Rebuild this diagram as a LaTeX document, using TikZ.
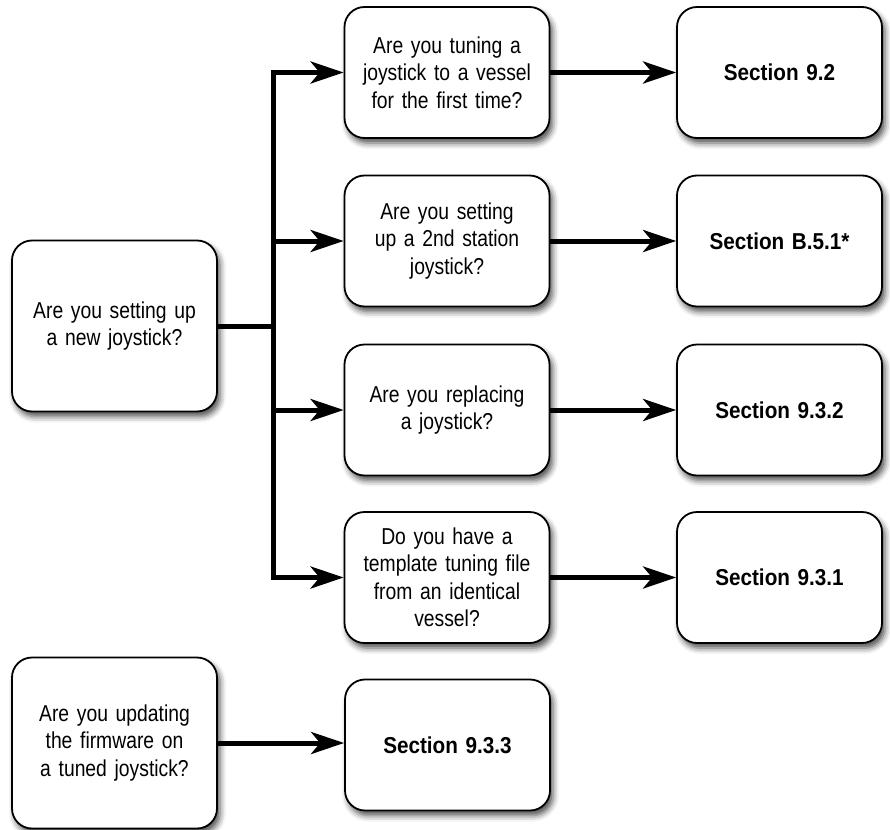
\documentclass[tikz,border=0pt]{standalone}
\usepackage{fontspec}
\setmainfont{Liberation Sans}[FakeStretch=0.84, BoldFeatures={FakeStretch=0.9}]
\usetikzlibrary{arrows.meta,shadows.blur}
\begin{document}
\begin{tikzpicture}[x=1pt,y=-1pt,
  box/.style={draw, line width=1.8pt, rounded corners=20pt, fill=white,
    align=center, inner sep=0pt, text width=190pt,
    minimum width=205pt, minimum height=131pt,
    blur shadow={shadow xshift=3pt, shadow yshift=-5pt, shadow blur radius=6pt, shadow opacity=70},
    font=\fontsize{23}{27.5}\selectfont},
  tall/.style={minimum height=171pt},
  secbox/.style={box, font=\fontsize{23}{27.5}\selectfont\bfseries},
  conn/.style={line width=5pt},
  arr/.style={line width=5pt, -{Stealth[length=33pt, width=22pt, inset=9pt]}}
]
\useasboundingbox (0,0) rectangle (890,829);

\node[box, tall] (q0) at (114.5,326) {Are you setting up\\a new joystick?};
\node[box] (m1) at (447,72.5) {Are you tuning a\\joystick to a vessel\\for the first time?};
\node[box] (m2) at (447,241) {Are you setting\\up a 2nd station\\joystick?};
\node[box] (m3) at (447,410) {Are you replacing\\a joystick?};
\node[box] (m4) at (447,577.5) {Do you have a\\template tuning file\\from an identical\\vessel?};

\node[secbox] (r1) at (779.5,72.5) {Section 9.2};
\node[secbox] (r2) at (779.5,241) {Section B.5.1*};
\node[secbox] (r3) at (779.5,410) {Section 9.3.2};
\node[secbox] (r4) at (779.5,577.5) {Section 9.3.1};

\node[box, tall] (q1) at (114.5,743) {Are you updating\\the firmware on\\a tuned joystick?};
\node[secbox] (r5) at (447.5,745) {Section 9.3.3};

\coordinate (bt) at (273,72.5);
\coordinate (bb) at (273,577.5);

\draw[conn, line cap=rect] (bt) -- (bb);
\draw[conn] (q0.east) -- (q0.east -| bt);
\draw[arr] (bt) -- (m1.west);
\draw[arr] (bt |- m2.west) -- (m2.west);
\draw[arr] (bt |- m3.west) -- (m3.west);
\draw[arr] (bb) -- (m4.west);

\draw[arr] (m1) -- (r1);
\draw[arr] (m2) -- (r2);
\draw[arr] (m3) -- (r3);
\draw[arr] (m4) -- (r4);
\draw[arr] (q1.east) -- (q1.east -| r5.west);
\end{tikzpicture}
\end{document}
